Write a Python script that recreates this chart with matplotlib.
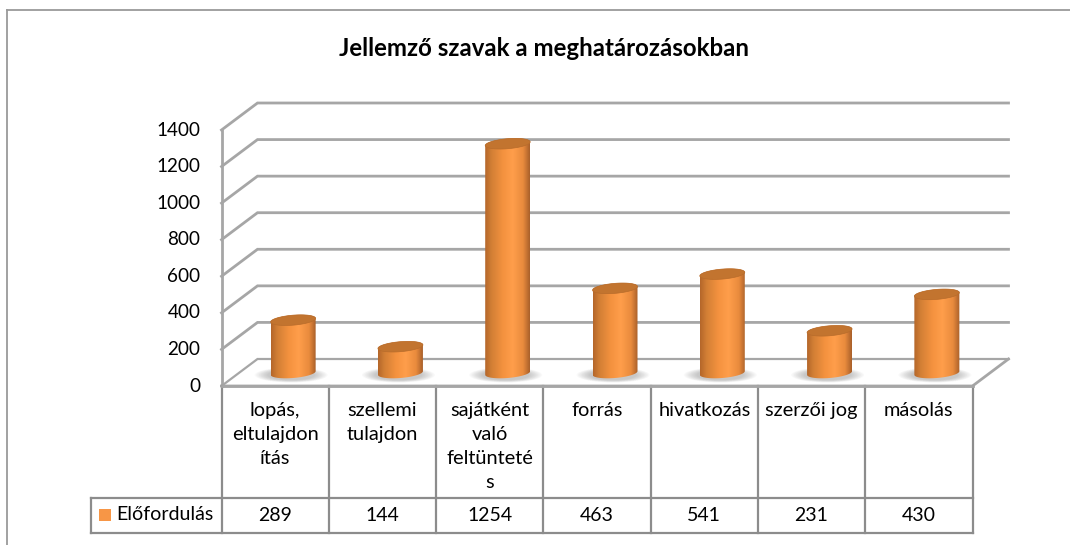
import numpy as np
import matplotlib
matplotlib.use("Agg")
import matplotlib.pyplot as plt
from matplotlib.patches import Polygon, Ellipse, Rectangle
from matplotlib.path import Path
from matplotlib.patches import PathPatch
from matplotlib.colors import LinearSegmentedColormap

plt.rcParams['font.family'] = ['Lato', 'DejaVu Sans']

title = "Jellemző szavak a meghatározásokban"
categories = ["lopás,\neltulajdon\nítás", "szellemi\ntulajdon", "sajátként\nvaló\nfeltünteté\ns",
              "forrás", "hivatkozás", "szerzői jog", "másolás"]
values = [289, 144, 1254, 463, 541, 231, 430]
series_name = "Előfordulás"
y_ticks = [0, 200, 400, 600, 800, 1000, 1200, 1400]

W, H = 1070, 545
fig = plt.figure(figsize=(W/100, H/100), dpi=100, facecolor="white")
L, R, B, T = 221.5, 972.5, 386.0, 130.0
ax = fig.add_axes([L/W, 1-B/H, (R-L)/W, (B-T)/H])
ax.set_xlim(0, len(categories)); ax.set_ylim(0, 1400); ax.axis("off")

px = (R-L)/len(categories)      # pixels per category
py = (B-T)/1400                 # pixels per value unit
def X(p): return (p-L)/px
def Y(p): return (B-p)/py
dx, dy = 36/px, 27/py            # depth offset of back wall
GRID = "#a6a6a6"; TAB = "#8c8c8c"

# outer chart frame
for xs, ys in [((7, 7), (10, 545)), ((7, 1070), (10, 10))]:
    ax.plot([X(v) for v in xs], [Y(v) for v in ys], color="#9a9a9a", lw=1.3, clip_on=False)

# walls: gridlines
x_end = len(categories)
for t in y_ticks:
    lw = 2.0 if t else 1.6
    ax.plot([0, dx, x_end+dx], [t, t+dy, t+dy], color=GRID, lw=lw, clip_on=False,
            solid_joinstyle="miter", zorder=1)
    ax.text(X(200.5), t, str(t), ha="right", va="center", fontsize=13.6, color="black", clip_on=False)
ax.plot([0, 0], [0, 1400], color=GRID, lw=2, clip_on=False, zorder=1)
# floor
ax.plot([0, x_end, x_end+dx], [0, 0, dy], color=GRID, lw=2, clip_on=False, zorder=1)

# cylinders
cmap = LinearSegmentedColormap.from_list("cyl", [
    (0, "#b4662a"), (0.14, "#d27f35"), (0.4, "#f4923f"), (0.62, "#ff9e4b"),
    (0.85, "#e98b3d"), (1, "#a9602a")])
grad = np.linspace(0, 1, 128)[None, :]
hw = 22.5/px; eh = 5.0/py; tilt = 1.8/py
t = np.linspace(0, 2*np.pi, 81)
ex, ey = hw*np.cos(t), eh*np.sin(t) + tilt*np.cos(t)   # tilted ellipse outline
for i, v in enumerate(values):
    cx = i + 0.5 + dx/2
    y0 = 13/py
    y1 = y0 + v
    # soft shadow
    for k in range(10):
        f = 1 - k/10
        ax.add_patch(Ellipse((cx-2/px, y0-2/py), 2*hw*(1.0+0.62*f), 2*eh*(1.0+0.5*f),
                             fc="#555555", ec="none", alpha=0.035, zorder=2, clip_on=False))
    upper = np.c_[cx + ex[:41], y1 + ey[:41]]      # top cap, far side
    lower = np.c_[cx + ex[40:], y0 + ey[40:]]      # base, near side
    verts = np.r_[upper, lower, upper[:1]]
    patch = PathPatch(Path(verts), fc="none", ec="none", transform=ax.transData)
    ax.add_patch(patch)
    im = ax.imshow(grad, extent=[cx-hw, cx+hw, y0-eh-tilt, y1+eh+tilt], aspect="auto", cmap=cmap,
                   vmin=0, vmax=1, zorder=3, interpolation="bilinear")
    im.set_clip_path(patch)
    ax.add_patch(Polygon(np.c_[cx + ex, y1 + ey], closed=True, fc="#c2742f", ec="#b86c2b", lw=0.5, zorder=4))

ax.set_xlim(0, len(categories)); ax.set_ylim(0, 1400)

# data table
y_head, y_mid, y_bot = B, 498, 533
x_left = 91
for i in range(len(categories)+1):
    ax.plot([i, i], [Y(y_head), Y(y_bot)], color=TAB, lw=1.6, clip_on=False)
ax.plot([0, x_end], [Y(y_head)]*2, color=GRID, lw=2, clip_on=False)
ax.plot([X(x_left), x_end], [Y(y_mid)]*2, color=TAB, lw=1.6, clip_on=False)
ax.plot([X(x_left), x_end], [Y(y_bot)]*2, color=TAB, lw=1.6, clip_on=False)
ax.plot([X(x_left)]*2, [Y(y_mid), Y(y_bot)], color=TAB, lw=1.6, clip_on=False)
for i, (c, v) in enumerate(zip(categories, values)):
    ax.text(i+0.5, Y(402), c, ha="center", va="top", fontsize=14.4, linespacing=1.5, clip_on=False)
    ax.text(i+0.5, Y(515.5), str(v), ha="center", va="center", fontsize=14, clip_on=False)
ax.add_patch(Rectangle((X(99), Y(521)), 12/px, 12/py, fc="#f79646", ec="none", clip_on=False))
ax.text(X(116), Y(515), series_name, ha="left", va="center", fontsize=14.1, clip_on=False)

fig.text(544/W, 1-49/H, title, ha="center", va="center", fontsize=17.3, fontweight="bold")
fig.savefig("out.png", dpi=100, facecolor="white")
